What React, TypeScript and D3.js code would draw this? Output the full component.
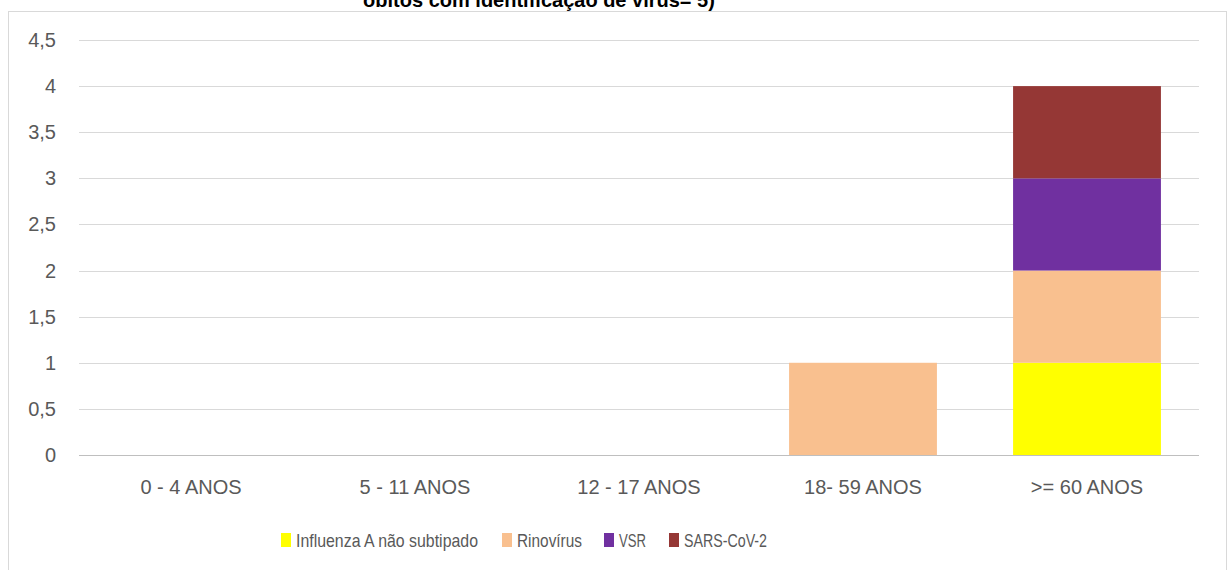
import * as d3 from "d3";

const categories = ["0 - 4 ANOS", "5 - 11 ANOS", "12 - 17 ANOS", "18- 59 ANOS", ">= 60 ANOS"];
const seriesNames = ["Influenza A não subtipado", "Rinovírus", "VSR", "SARS-CoV-2"];
const seriesColors = ["#FFFF00", "#F9C08F", "#7030A0", "#953735"];
const influenzaA = [0, 0, 0, 0, 1];
const rinovirus = [0, 0, 0, 1, 1];
const vsr = [0, 0, 0, 0, 1];
const sarsCov2 = [0, 0, 0, 0, 1];
const yTicks = [0, 0.5, 1, 1.5, 2, 2.5, 3, 3.5, 4, 4.5];

const W = 1228;
const H = 570;
const plot = { left: 79, right: 1199, top: 40, bottom: 455 };
const font = "'Liberation Sans', Arial, sans-serif";

export default function App() {
  const x = d3.scaleBand().domain(categories).range([plot.left, plot.right]).paddingInner(0.34).paddingOuter(0.17);
  const y = d3.scaleLinear().domain([0, 4.5]).range([plot.bottom, plot.top]);

  const rows = categories.map((c, i) => ({
    cat: c,
    s0: influenzaA[i],
    s1: rinovirus[i],
    s2: vsr[i],
    s3: sarsCov2[i],
  }));
  const stack = d3.stack<any>().keys(["s0", "s1", "s2", "s3"])(rows);
  const fmt = (v: number) => String(v).replace(".", ",");

  // legend layout (Calibri-like narrow text, so squeeze glyphs to fit)
  const legendX = [281, 502, 604, 669];
  const legendW = [182, 65, 27, 83];

  return (
    <div style={{ position: "absolute", left: 0, top: 0 }}>
      <svg width={W} height={H} style={{ display: "block", fontFamily: font }}>
        <rect width={W} height={H} fill="#fff" />
        <text x={539} y={6.5} textAnchor="middle" fontSize={20} fontWeight="bold" fill="#000">
          óbitos com identificação de vírus= 5)
        </text>
        {/* chart border */}
        <rect x={8.5} y={11.5} width={1218} height={600} fill="none" stroke="#D9D9D9" />
        {/* grid */}
        {yTicks.map((t) => (
          <g key={t}>
            <line
              x1={plot.left}
              x2={plot.right}
              y1={Math.round(y(t)) + 0.5}
              y2={Math.round(y(t)) + 0.5}
              stroke={t === 0 ? "#BFBFBF" : "#D9D9D9"}
            />
            <text x={56} y={y(t)} dy="0.35em" textAnchor="end" fontSize={20} fill="#595959">
              {fmt(t)}
            </text>
          </g>
        ))}
        {/* bars */}
        {stack.map((layer, si) =>
          layer.map((d, i) =>
            d[1] - d[0] > 0 ? (
              <rect
                key={si + "-" + i}
                x={x(categories[i])}
                width={x.bandwidth()}
                y={y(d[1])}
                height={y(d[0]) - y(d[1])}
                fill={seriesColors[si]}
              />
            ) : null
          )
        )}
        {/* x labels */}
        {categories.map((c) => (
          <text key={c} x={(x(c) as number) + x.bandwidth() / 2} y={487} dy="0.35em" textAnchor="middle" fontSize={20} fill="#595959">
            {c}
          </text>
        ))}
        {/* legend */}
        {seriesNames.map((n, i) => (
          <g key={n} transform={`translate(${legendX[i]},533)`}>
            <rect width={10} height={14} fill={seriesColors[i]} />
            <text
              x={15}
              y={7}
              dy="0.35em"
              fontSize={19}
              fill="#595959"
              textLength={legendW[i]}
              lengthAdjust="spacingAndGlyphs"
            >
              {n}
            </text>
          </g>
        ))}
      </svg>
    </div>
  );
}
